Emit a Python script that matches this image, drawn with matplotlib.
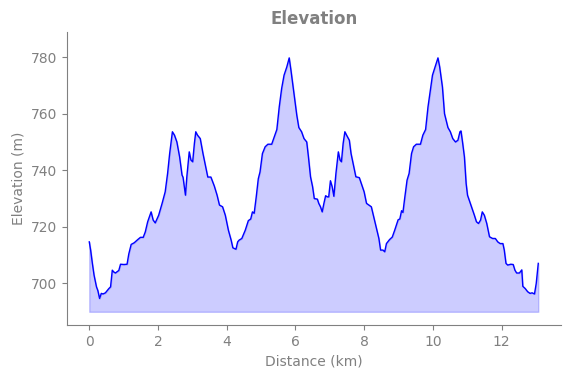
import numpy as np
import matplotlib.pyplot as plt

# elevation profile
distance_km = [0.00, 0.04, 0.09, 0.14, 0.21, 0.25, 0.30, 0.35, 0.40, 0.47, 0.57, 0.62, 0.67, 0.71, 0.76,
               0.86, 0.91, 1.01, 1.10, 1.15, 1.22, 1.31, 1.41, 1.49, 1.57, 1.63, 1.70, 1.80, 1.86, 1.92,
               2.02, 2.12, 2.21, 2.28, 2.34, 2.42, 2.48, 2.55, 2.63, 2.70, 2.73, 2.80, 2.84, 2.91, 2.96,
               3.01, 3.06, 3.10, 3.15, 3.23, 3.31, 3.38, 3.45, 3.54, 3.64, 3.72, 3.79, 3.88, 3.96, 4.05,
               4.13, 4.18, 4.27, 4.32, 4.36, 4.44, 4.54, 4.63, 4.70, 4.75, 4.80, 4.86, 4.92, 4.97, 5.04,
               5.12, 5.20, 5.31, 5.39, 5.46, 5.53, 5.60, 5.67, 5.75, 5.82, 5.87, 5.96, 6.04, 6.10, 6.18,
               6.25, 6.33, 6.38, 6.44, 6.50, 6.55, 6.64, 6.68, 6.73, 6.78, 6.83, 6.88, 6.93, 6.97, 7.02,
               7.07, 7.12, 7.18, 7.25, 7.30, 7.34, 7.39, 7.44, 7.49, 7.57, 7.62, 7.68, 7.76, 7.86, 7.92,
               8.00, 8.07, 8.14, 8.21, 8.29, 8.36, 8.43, 8.48, 8.55, 8.60, 8.65, 8.74, 8.82, 8.89, 8.99,
               9.04, 9.09, 9.13, 9.18, 9.25, 9.31, 9.38, 9.44, 9.52, 9.64, 9.71, 9.79, 9.86, 9.93, 9.99,
               10.05, 10.10, 10.15, 10.20, 10.28, 10.34, 10.44, 10.51, 10.58, 10.66, 10.73, 10.79, 10.82,
               10.87, 10.92, 10.97, 11.01, 11.11, 11.21, 11.27, 11.33, 11.39, 11.44, 11.50, 11.57, 11.65,
               11.74, 11.82, 11.89, 11.96, 12.04, 12.08, 12.13, 12.18, 12.27, 12.34, 12.39, 12.44, 12.52,
               12.59, 12.62, 12.69, 12.76, 12.83, 12.89, 12.96, 13.01, 13.07]
elevation_m = [714.7, 711.8, 707.1, 702.9, 698.8, 697.5, 694.7, 696.5, 696.3, 696.7, 698.2, 698.8, 704.7, 704.1, 703.7,
               704.6, 706.8, 706.7, 706.8, 710.4, 713.8, 714.4, 715.5, 716.3, 716.3, 718.2, 721.8, 725.3, 722.4, 721.4,
               724.1, 728.3, 732.4, 738.9, 745.9, 753.6, 752.4, 750.0, 744.7, 738.3, 737.5, 731.2, 737.7, 746.5, 743.6,
               743.0, 749.5, 753.6, 752.4, 751.2, 745.9, 741.7, 737.6, 737.6, 734.4, 731.2, 727.7, 727.1, 724.1, 718.8,
               715.3, 712.6, 712.1, 714.7, 715.3, 715.9, 718.8, 722.2, 722.8, 725.3, 724.8, 730.6, 737.0, 739.4, 745.9,
               748.3, 749.2, 749.2, 752.0, 754.4, 762.4, 768.9, 773.6, 776.5, 779.7, 775.4, 767.1, 759.5, 755.1, 753.6,
               751.2, 750.0, 744.7, 737.7, 734.2, 730.0, 729.8, 728.3, 727.1, 725.3, 728.3, 731.0, 730.6, 730.6, 736.3,
               734.2, 730.8, 738.9, 746.5, 743.6, 743.0, 749.5, 753.6, 752.4, 750.6, 745.9, 742.4, 737.7, 737.4, 735.3,
               732.4, 728.3, 727.7, 727.1, 723.0, 719.4, 715.9, 711.8, 711.8, 711.2, 714.1, 715.5, 716.4, 718.8, 722.5,
               722.8, 725.7, 725.1, 730.0, 736.5, 738.9, 745.9, 748.3, 749.2, 749.2, 752.4, 754.4, 762.4, 768.3, 773.6,
               775.9, 777.7, 779.7, 776.5, 769.4, 760.0, 755.1, 753.6, 751.2, 750.0, 750.6, 753.6, 753.9,
               749.5, 744.7, 735.3, 731.2, 727.7, 724.1, 721.8, 721.2, 722.4, 725.3, 724.1, 721.2, 716.5,
               715.9, 715.9, 714.7, 714.1, 714.1, 711.8, 707.1, 706.5, 706.8, 706.7, 704.7, 703.7, 703.7,
               704.8, 699.0, 698.2, 697.1, 696.5, 696.7, 696.3, 700.0, 707.1]

base = 690
grey = 'grey'

fig = plt.figure(figsize=(5.71, 3.78), dpi=100)
ax = fig.add_axes([0.117, 0.14, 0.865, 0.775])

ax.fill_between(distance_km, elevation_m, base, color='blue', alpha=0.2)
ax.plot(distance_km, elevation_m, color='blue', linewidth=1)

ax.set_ylim(685.3, 788.8)
ax.set_title('Elevation', fontsize=12, fontweight='bold', color=grey)
ax.set_xlabel('Distance (km)', color=grey)
ax.set_ylabel('Elevation (m)', color=grey)
ax.tick_params(colors=grey)
for s in ['top', 'right']:
    ax.spines[s].set_visible(False)
for s in ['left', 'bottom']:
    ax.spines[s].set_color(grey)

plt.savefig('out.png')
